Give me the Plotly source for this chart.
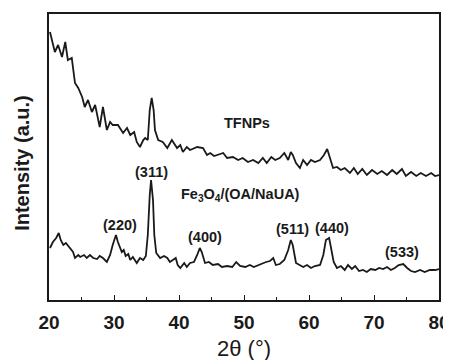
import plotly.graph_objects as go

# TFNPs pattern (2theta in degrees, intensity a.u.)
tf_x = [20.15, 20.9, 21.4, 22.0, 22.5, 22.9, 23.5, 24.0, 24.5, 25.1, 25.5, 26.0, 26.6, 27.1, 27.8,
        28.3, 28.9, 29.4, 29.8, 30.6, 31.4, 32.0, 32.5, 33.1, 33.5, 34.0, 34.5, 34.8, 35.2, 35.5,
        35.8, 36.1, 36.3, 36.8, 37.5, 38.2, 38.9, 39.7, 40.2, 40.6, 41.2, 41.7, 42.8, 43.7, 44.3,
        44.8, 45.4, 45.8, 46.8, 47.4, 48.3, 49.1, 49.8, 50.6, 51.4, 52.2, 52.9, 53.5, 54.2, 54.8,
        55.5, 56.2, 56.8, 57.2, 57.5, 58.0, 58.6, 59.1, 59.7, 60.3, 60.9, 61.7, 62.3, 62.8, 63.2,
        63.7, 64.3, 64.9, 65.5, 66.3, 66.9, 67.5, 68.2, 68.9, 69.7, 70.5, 71.2, 72.0, 72.8, 73.5,
        74.3, 74.9, 75.7, 76.5, 77.2, 78.0, 78.8, 79.4, 80.0]
tf_y = [268, 248, 255, 243, 258, 240, 242, 217, 212, 203, 193, 200, 188, 195, 173,
        193, 170, 178, 175, 175, 167, 172, 165, 168, 158, 153, 160, 162, 160, 190,
        202, 190, 170, 160, 158, 152, 160, 152, 155, 148, 153, 150, 153, 152, 145,
        147, 144, 145, 147, 142, 143, 140, 142, 138, 140, 137, 142, 137, 143, 140,
        142, 147, 140, 148, 145, 137, 132, 140, 135, 140, 138, 140, 145, 151, 143,
        132, 133, 130, 132, 127, 132, 126, 131, 125, 130, 126, 129, 125, 130, 126,
        131, 124, 128, 124, 127, 124, 127, 124, 125]

# Fe3O4/(OA/NaUA) pattern
fe_x = [20.15, 20.6, 21.1, 21.5, 21.8, 22.2, 22.6, 23.2, 23.7, 24.0, 24.5, 24.8, 25.4, 25.8, 26.3,
        26.8, 27.4, 27.8, 28.3, 28.9, 29.4, 29.8, 30.3, 30.6, 30.9, 31.2, 31.5, 31.8, 32.2, 32.5,
        32.9, 33.5, 34.0, 34.5, 34.9, 35.2, 35.5, 35.7, 36.0, 36.2, 36.5, 37.1, 37.7, 38.2, 38.6,
        39.1, 39.5, 39.8, 40.2, 40.8, 41.2, 41.7, 42.3, 42.8, 43.2, 43.5, 44.0, 44.6, 45.2, 46.0,
        46.6, 47.4, 48.2, 48.8, 49.4, 50.2, 50.9, 51.5, 52.2, 52.8, 53.4, 54.0, 54.5, 54.9, 55.5,
        56.2, 56.8, 57.2, 57.5, 58.0, 58.6, 59.1, 59.7, 60.3, 60.9, 61.7, 62.2, 62.6, 63.1, 63.4,
        63.8, 64.3, 64.9, 65.5, 66.0, 66.6, 67.1, 67.7, 68.3, 68.9, 69.5, 70.2, 70.8, 71.4, 72.0,
        72.6, 73.2, 73.8, 74.5, 75.1, 75.7, 76.3, 77.1, 77.8, 78.6, 79.4, 80.0]
fe_y = [52, 58, 62, 67, 60, 55, 57, 52, 48, 42, 45, 43, 45, 42, 45,
        42, 41, 44, 42, 38, 45, 55, 65, 58, 52, 48, 50, 44, 46, 40,
        43, 37, 42, 40, 44, 65, 105, 120, 100, 65, 47, 42, 44, 42, 38,
        40, 42, 35, 32, 37, 33, 37, 38, 45, 52, 48, 37, 38, 35, 36,
        33, 34, 33, 38, 34, 33, 35, 33, 35, 36, 38, 39, 42, 35, 36,
        40, 50, 60, 55, 37, 35, 33, 35, 32, 34, 35, 45, 60, 62, 52,
        38, 32, 34, 30, 35, 31, 34, 29, 30, 28, 31, 30, 32, 31, 33,
        30, 32, 35, 36, 32, 29, 28, 30, 28, 30, 30, 31]

labels = ["TFNPs", "(311)", "Fe<sub>3</sub>O<sub>4</sub>/(OA/NaUA)", "(220)", "(400)", "(511)", "(440)", "(533)"]
label_x = [50.5, 35.8, 49.5, 30.9, 44.0, 57.5, 63.5, 74.3]
label_y = [177, 128, 105, 75, 63, 71, 72, 48]

x_ticks = [20, 30, 40, 50, 60, 70, 80]

fig = go.Figure()
fig.add_trace(go.Scatter(x=tf_x, y=tf_y, mode="lines", line=dict(color="#1a1a1a", width=1.8),
                         showlegend=False, hoverinfo="skip"))
fig.add_trace(go.Scatter(x=fe_x, y=fe_y, mode="lines", line=dict(color="#1a1a1a", width=1.8),
                         showlegend=False, hoverinfo="skip"))

for t, lx, ly in zip(labels, label_x, label_y):
    fig.add_annotation(x=lx, y=ly, text=t, showarrow=False, xanchor="center", yanchor="middle",
                       font=dict(family="Liberation Sans", size=14.5, color="#1a1a1a", weight="bold"))

fig.add_annotation(xref="paper", yref="paper", x=-0.069, y=0.48, text="Intensity (a.u.)",
                   textangle=-90, showarrow=False, xanchor="center", yanchor="middle",
                   font=dict(family="Liberation Sans", size=20, color="#1a1a1a", weight="bold"))
fig.add_annotation(xref="paper", yref="paper", x=0.50, y=-0.168, text="2θ (°)",
                   showarrow=False, xanchor="center", yanchor="middle",
                   font=dict(family="Liberation Sans", size=22, color="#1a1a1a"))

# page body has an 8px default margin, so the figure is sized 8px smaller
fig.update_layout(
    width=443, height=352,
    margin=dict(l=41, r=12, t=6, b=60, autoexpand=False),
    paper_bgcolor="white", plot_bgcolor="white",
    xaxis=dict(range=[20, 80], tickvals=x_ticks, ticktext=[str(v) for v in x_ticks],
               ticks="inside", ticklen=5, tickwidth=1.2, tickcolor="#1a1a1a",
               minor=dict(ticks="inside", ticklen=3, dtick=5, tickcolor="#1a1a1a"),
               showline=True, linecolor="#1a1a1a", linewidth=1.5, mirror=True,
               showgrid=False, zeroline=False, ticklabelstandoff=4, automargin=False,
               tickfont=dict(family="Liberation Sans", size=19, color="#1a1a1a", weight="bold")),
    yaxis=dict(range=[0, 286], showticklabels=False, ticks="", automargin=False,
               showline=True, linecolor="#1a1a1a", linewidth=1.5, mirror=True,
               showgrid=False, zeroline=False),
)

fig.write_html("out.html")
